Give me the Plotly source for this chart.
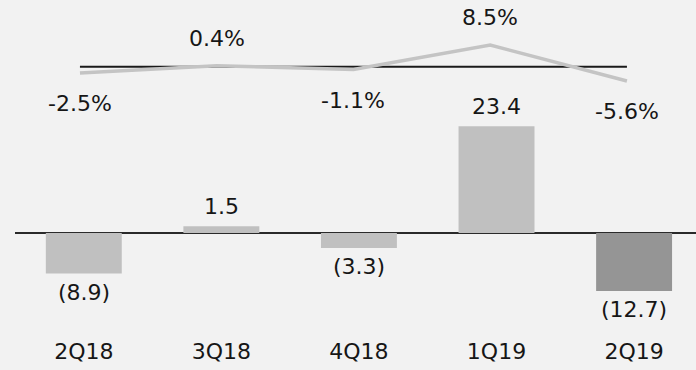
import plotly.graph_objects as go

categories = ["2Q18", "3Q18", "4Q18", "1Q19", "2Q19"]
bar_values = [-8.9, 1.5, -3.3, 23.4, -12.7]
bar_colors = ["#c0c0c0", "#c0c0c0", "#c0c0c0", "#c0c0c0", "#959595"]
growth_pct = [-2.5, 0.4, -1.1, 8.5, -5.6]

FONT = "DejaVu Sans"
TXT = "#161616"
FS = 22

def fmt_bar(v):
    return f"({abs(v):.1f})" if v < 0 else f"{v:.1f}"

fig = go.Figure()
fig.add_trace(go.Bar(
    x=categories, y=bar_values, marker=dict(color=bar_colors, line=dict(width=0)),
    xaxis="x", yaxis="y", hoverinfo="skip", showlegend=False,
))
line_x = list(range(len(growth_pct)))
fig.add_trace(go.Scatter(
    x=line_x, y=growth_pct, mode="lines",
    line=dict(color="#c4c4c4", width=3.5),
    xaxis="x2", yaxis="y2", hoverinfo="skip", showlegend=False,
))

annotations = []
for c, v in zip(categories, bar_values):
    annotations.append(dict(
        x=c, y=v, xref="x", yref="y", text=fmt_bar(v), showarrow=False,
        yanchor="bottom" if v >= 0 else "top", yshift=5 if v >= 0 else -4,
        font=dict(family=FONT, size=FS, color=TXT),
    ))
for i, v in zip(line_x, growth_pct):
    annotations.append(dict(
        x=i, y=v, xref="x2", yref="y2", text=f"{v:.1f}%", showarrow=False,
        yanchor="bottom" if v >= 0 else "top", yshift=13 if v >= 0 else -16,
        font=dict(family=FONT, size=FS, color=TXT),
    ))

fig.update_layout(
    width=696, height=370,
    margin=dict(l=15, r=0, t=0, b=40),
    paper_bgcolor="#f2f2f2", plot_bgcolor="#f2f2f2",
    bargap=0.448,
    font=dict(family=FONT, size=FS, color=TXT),
    xaxis=dict(type="category", range=[-0.5, 4.45], showgrid=False, showline=False,
               zeroline=False, ticks="", ticklabelstandoff=6,
               tickfont=dict(family=FONT, size=FS, color=TXT)),
    xaxis2=dict(overlaying="x", range=[-0.475, 4.505], visible=False),
    yaxis=dict(range=[-21.27, 51.1], showgrid=False, showticklabels=False,
               zeroline=True, zerolinecolor="#2a2a2a", zerolinewidth=2),
    yaxis2=dict(overlaying="y", range=[-103.25, 26.16], visible=False),
    shapes=[dict(type="line", xref="x2", yref="y2", x0=line_x[0], x1=line_x[-1],
                 y0=0, y1=0, line=dict(color="#1a1a1a", width=2), layer="below")],
    annotations=annotations,
)

fig.write_html("out.html")
